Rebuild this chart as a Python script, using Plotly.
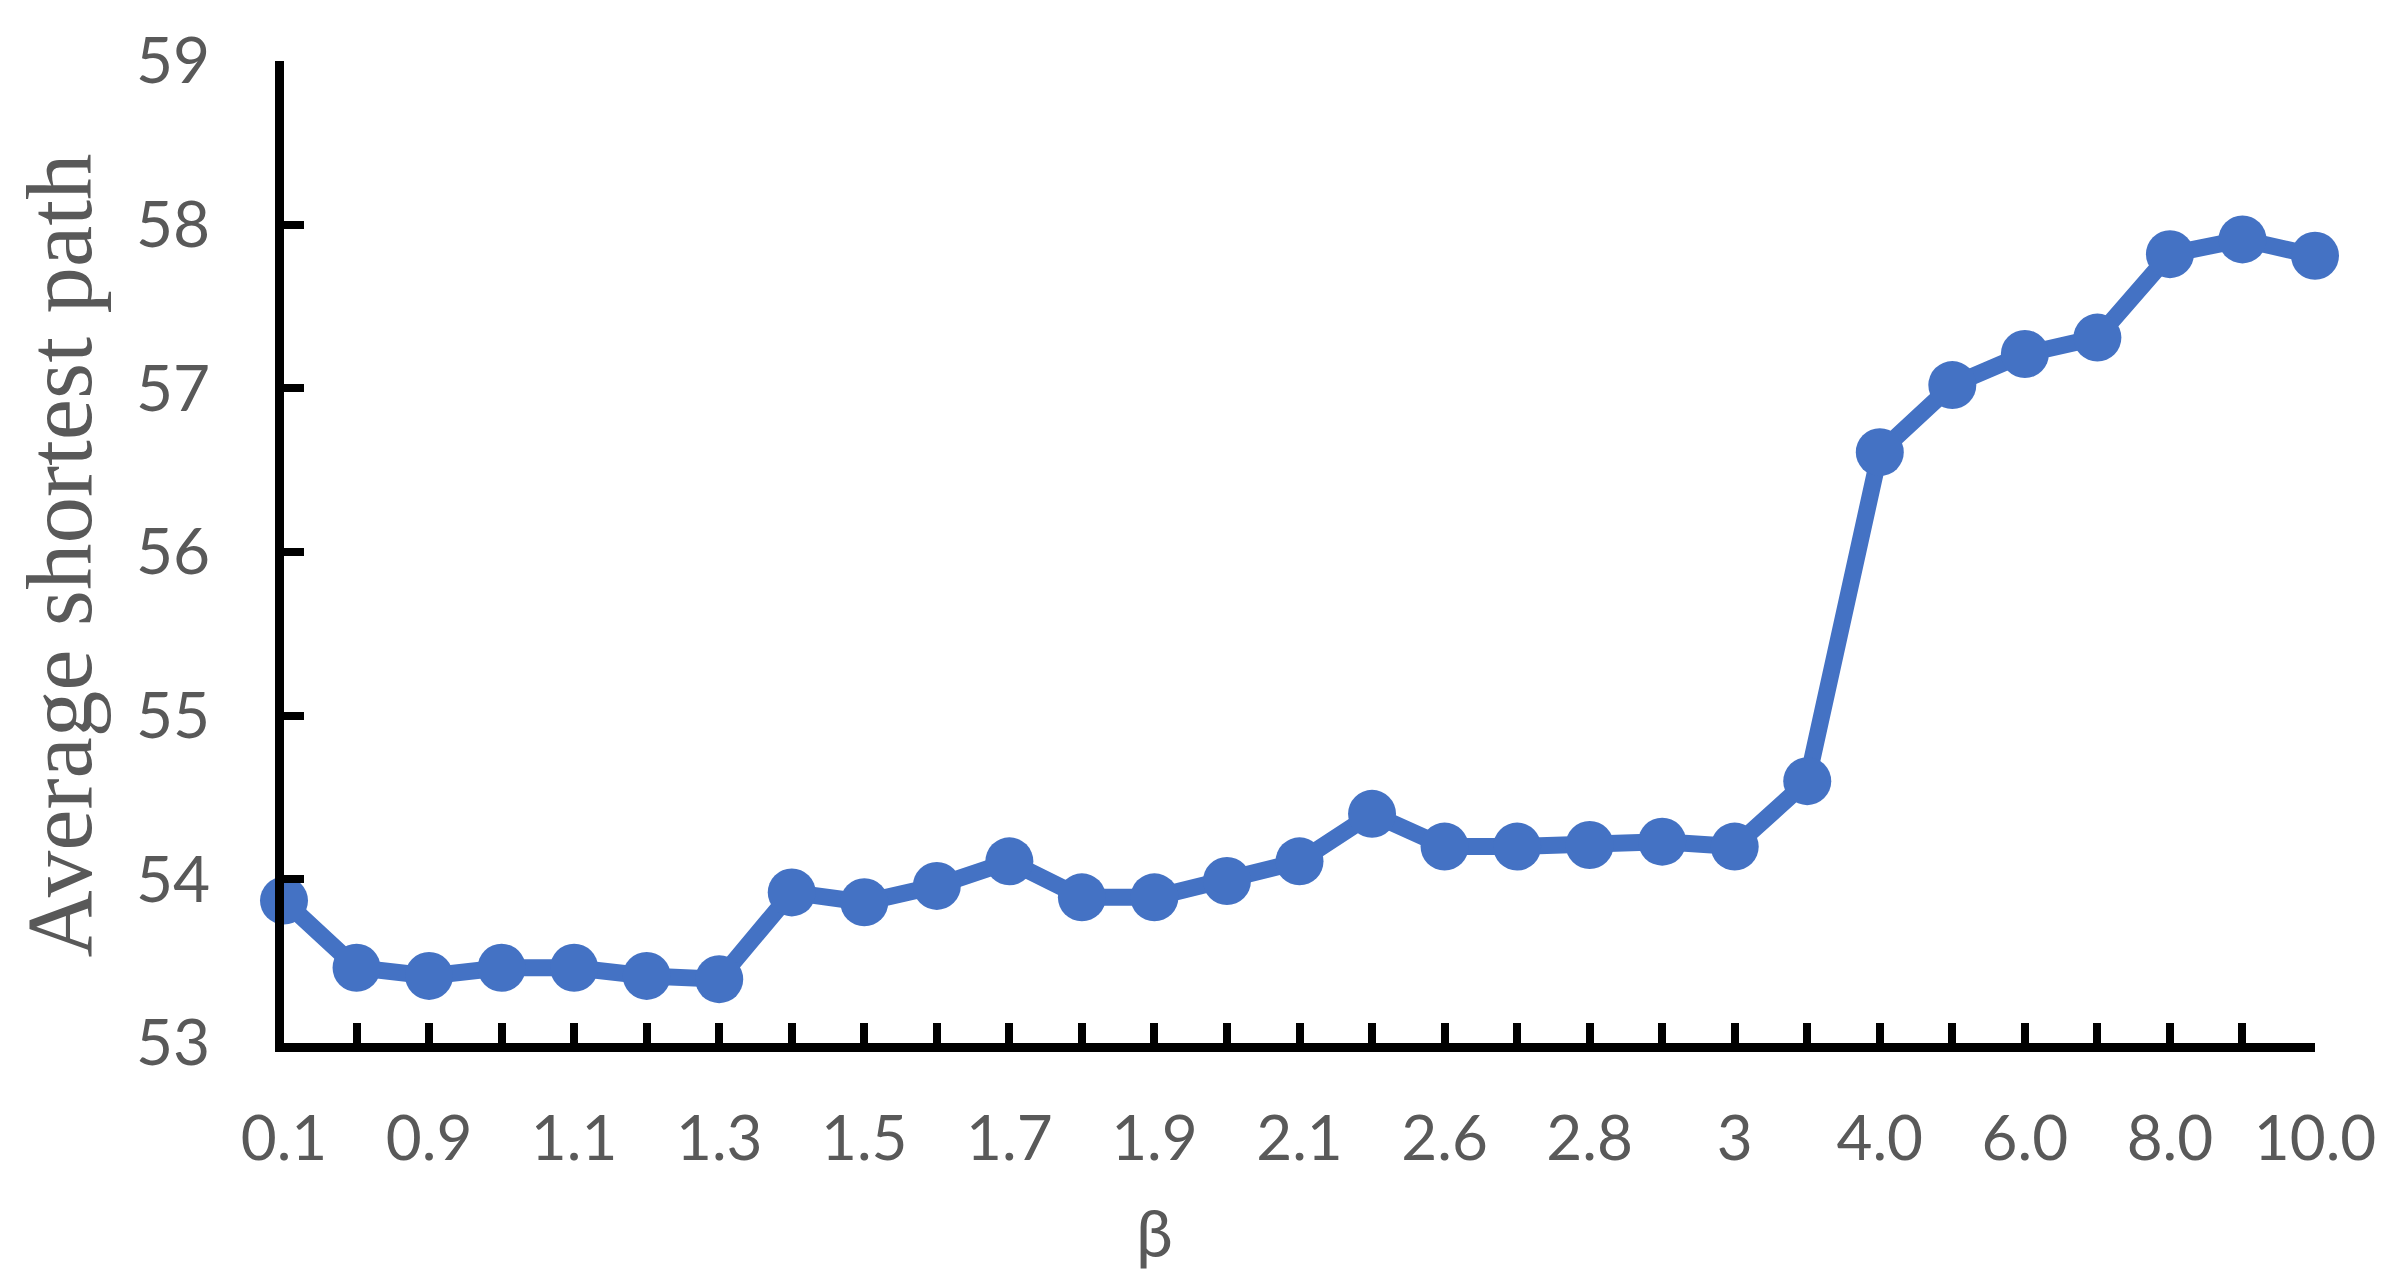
import plotly.graph_objects as go

# beta values (every other one is labelled on the axis)
beta = ["0.1", "0.5", "0.9", "1.0", "1.1", "1.2", "1.3", "1.4", "1.5", "1.6",
        "1.7", "1.8", "1.9", "2.0", "2.1", "2.4", "2.6", "2.7", "2.8", "2.9",
        "3", "3.5", "4.0", "5.0", "6.0", "7.0", "8.0", "9.0", "10.0"]
avg_path = [53.87, 53.46, 53.41, 53.46, 53.46, 53.41, 53.39, 53.92, 53.86, 53.96,
            54.11, 53.89, 53.89, 53.99, 54.11, 54.40, 54.20, 54.20, 54.21, 54.23,
            54.20, 54.60, 56.61, 57.02, 57.21, 57.31, 57.82, 57.91, 57.81]
tick_text = [b if i % 2 == 0 else "" for i, b in enumerate(beta)]
y_ticks = [53, 54, 55, 56, 57, 58, 59]

W, H = 2383, 1288
L, R, T, B = 276, 76, 50, 253
BLUE = "#4472C4"
GREY = "#595959"

fig = go.Figure()
fig.add_trace(go.Scatter(
    x=beta, y=avg_path,
    mode="lines+markers",
    line=dict(color=BLUE, width=17),
    marker=dict(color=BLUE, size=48),
    cliponaxis=False,
    showlegend=False,
))

fig.update_layout(
    width=W, height=H,
    margin=dict(l=L, r=R, t=T, b=B),
    plot_bgcolor="white", paper_bgcolor="white",
    font=dict(family="Lato", size=62, color=GREY),
)

fig.update_xaxes(
    type="category",
    range=[0, len(beta) - 1],
    tickmode="array", tickvals=beta, ticktext=tick_text,
    ticks="inside", ticklen=20, tickwidth=8, tickcolor="black",
    showline=True, linewidth=9, linecolor="black",
    showgrid=False, zeroline=False,
    ticklabelstandoff=34,
    tickfont=dict(family="Lato", size=62, color=GREY),
)
fig.update_yaxes(
    range=[53, 59],
    tickmode="array", tickvals=y_ticks,
    ticks="inside", ticklen=20, tickwidth=8, tickcolor="black",
    showline=True, linewidth=9, linecolor="black",
    showgrid=False, zeroline=False,
    ticklabelstandoff=52,
    tickfont=dict(family="Lato", size=64, color=GREY),
)

# axis titles
fig.add_annotation(
    text="Average shortest path",
    xref="paper", yref="paper",
    x=(51 - L) / (W - L - R), y=1 - (546 - T) / (H - T - B),
    xanchor="center", yanchor="middle",
    textangle=-90, showarrow=False,
    font=dict(family="Liberation Serif", size=93, color=GREY),
)
fig.add_annotation(
    text="β",
    xref="paper", yref="paper",
    x=(1146 - L) / (W - L - R), y=-(1224 - (H - B)) / (H - T - B),
    xanchor="center", yanchor="middle",
    showarrow=False,
    font=dict(family="Lato", size=66, color=GREY),
)

fig.write_html("out.html")
